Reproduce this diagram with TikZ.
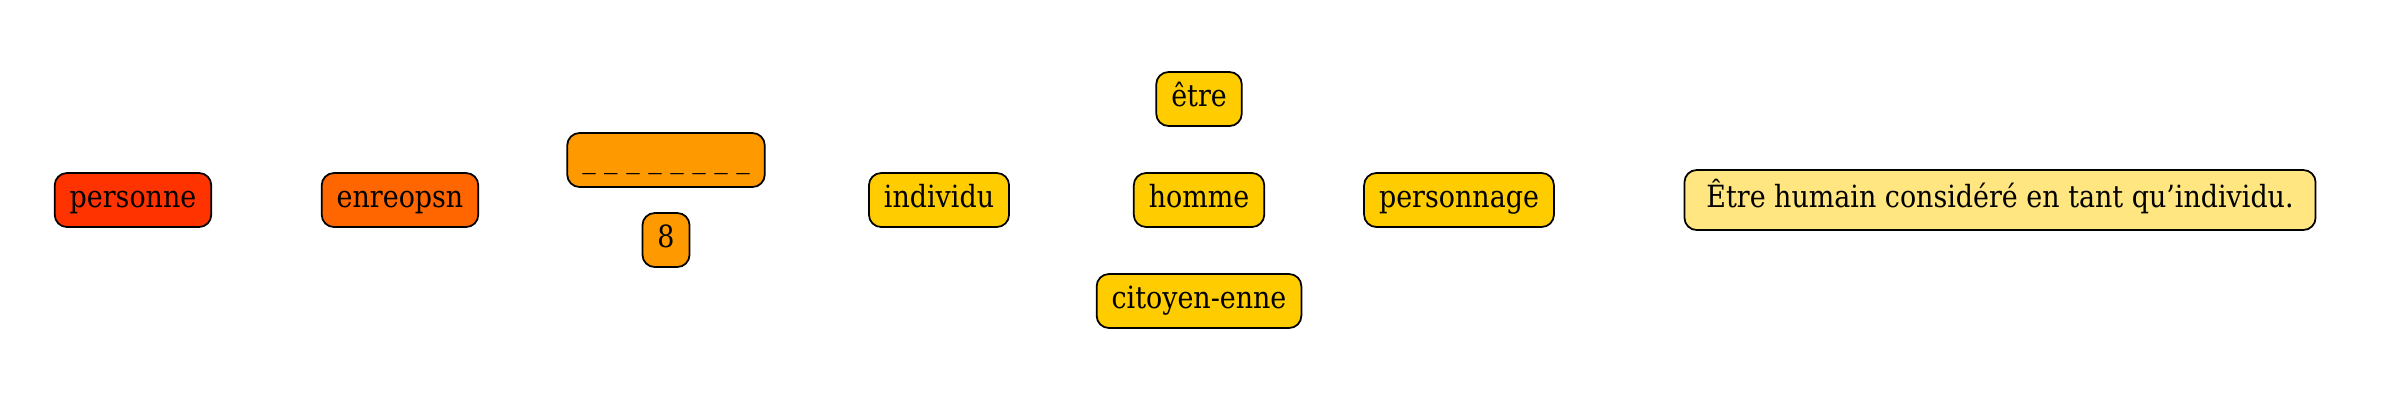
\documentclass[tikz,border=0pt]{standalone}
\usepackage{fontspec}
\setmainfont{DejaVu Serif}[FakeStretch=0.88]

\definecolor{redlvl}{HTML}{FF3300}
\definecolor{orangelvl}{HTML}{FF6600}
\definecolor{amberlvl}{HTML}{FF9900}
\definecolor{yellowlvl}{HTML}{FFCC00}
\definecolor{defnlvl}{HTML}{FFE680}

\tikzset{
    word/.style={draw=black,line width=0.5pt,rounded corners=3.5pt,
        font=\fontsize{8.7}{10}\selectfont,text height=0.7em,text depth=0.25em,
        minimum height=0.54cm,inner xsep=0.15cm,inner ysep=0pt},
    defn/.style={word,fill=defnlvl,minimum height=0.60cm,inner xsep=0.22cm}
}

\begin{document}
\begin{tikzpicture}

\useasboundingbox (0,0) rectangle (24,4);

% -------- Left: the word and its scrambles --------
\node[word,fill=redlvl]    (personne) at (1.33,2.0) {personne};
\node[word,fill=orangelvl] (enreopsn) at (4.00,2.0) {enreopsn};

\node[word,fill=amberlvl]  (blanks) at (6.66,2.40) {\_ \_ \_ \_ \_ \_ \_ \_};
\node[word,fill=amberlvl]  (eight)  at (6.66,1.60) {8};

% -------- Middle: related words --------
\node[word,fill=yellowlvl] (individu)   at (9.39,2.0)  {individu};
\node[word,fill=yellowlvl] (etre)       at (11.99,3.01) {être};
\node[word,fill=yellowlvl] (homme)      at (11.99,2.0) {homme};
\node[word,fill=yellowlvl] (citoyen)    at (11.99,0.99) {citoyen-enne};
\node[word,fill=yellowlvl] (personnage) at (14.59,2.0) {personnage};

% ---- Definition ----
\node[defn] (definition) at (20.00,2.0) {Être humain considéré en tant qu’individu.};

\end{tikzpicture}
\end{document}
